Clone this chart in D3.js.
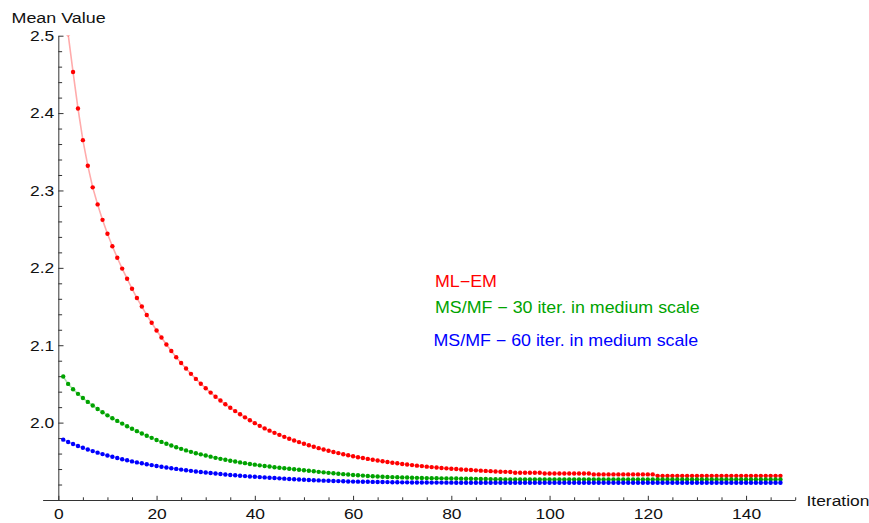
<!DOCTYPE html>
<html>
<head>
<meta charset="utf-8">
<script src="https://cdn.jsdelivr.net/npm/d3@7"></script>
<style>
  html, body { margin: 0; padding: 0; background: #fff; }
  svg { display: block; font-family: "Liberation Sans", Arial, Helvetica, sans-serif; }
</style>
</head>
<body>
<svg id="chart" width="869" height="523"></svg>
<script>
// Iteration index shared by all three runs
const iterations = d3.range(1, 148);

// ML-EM mean value per iteration
const mlEm = [
  2.556, 2.502, 2.453, 2.406, 2.365, 2.332, 2.304, 2.282, 2.262, 2.244,
  2.228, 2.213, 2.199, 2.186, 2.173, 2.161, 2.150, 2.139, 2.129, 2.119,
  2.110, 2.101, 2.0925, 2.0845, 2.0770, 2.0700, 2.0630, 2.0565, 2.0503, 2.0444,
  2.0388, 2.0335, 2.0285, 2.0237, 2.0192, 2.0149, 2.0108, 2.0068, 2.0030, 1.9993,
  1.9958, 1.9925, 1.9896, 1.9868, 1.9842, 1.9816, 1.9792, 1.9769, 1.9748, 1.9727,
  1.9707, 1.9688, 1.9670, 1.9653, 1.9637, 1.9621, 1.9606, 1.9592, 1.9579, 1.9566,
  1.9553, 1.9542, 1.9531, 1.9520, 1.9510, 1.9500, 1.9491, 1.9482, 1.9474, 1.9466,
  1.9458, 1.9451, 1.9444, 1.9438, 1.9431, 1.9425, 1.9420, 1.9414, 1.9409, 1.9404,
  1.9400, 1.9395, 1.9391, 1.9387, 1.9383, 1.9379, 1.9376, 1.9373, 1.9369, 1.9366,
  1.9364, 1.9362, 1.9352, 1.9352, 1.9352, 1.9352, 1.9352, 1.9352, 1.9342, 1.9342,
  1.9342, 1.9342, 1.9342, 1.9342, 1.9342, 1.9342, 1.9342, 1.9342, 1.9331, 1.9331,
  1.9331, 1.9331, 1.9331, 1.9331, 1.9331, 1.9331, 1.9331, 1.9331, 1.9331, 1.9331,
  1.9331, 1.9312, 1.9312, 1.9312, 1.9312, 1.9312, 1.9312, 1.9312, 1.9312, 1.9312,
  1.9312, 1.9312, 1.9312, 1.9312, 1.9312, 1.9312, 1.9312, 1.9312, 1.9312, 1.9312,
  1.9312, 1.9312, 1.9312, 1.9312, 1.9312, 1.9312, 1.9312
];

// MS/MF with 30 iterations in medium scale
const msmf30 = [
  2.0595, 2.0500, 2.0432, 2.0372, 2.0318, 2.0268, 2.0221, 2.0176, 2.0134, 2.0094,
  2.0057, 2.0022, 1.9987, 1.9953, 1.9921, 1.9890, 1.9860, 1.9831, 1.9803, 1.9776,
  1.9751, 1.9727, 1.9704, 1.9682, 1.9661, 1.9641, 1.9622, 1.9604, 1.9590, 1.9575,
  1.9560, 1.9545, 1.9532, 1.9520, 1.9508, 1.9497, 1.9486, 1.9476, 1.9466, 1.9457,
  1.9448, 1.9440, 1.9432, 1.9424, 1.9417, 1.9410, 1.9403, 1.9397, 1.9391, 1.9385,
  1.9378, 1.9371, 1.9364, 1.9357, 1.9351, 1.9345, 1.9339, 1.9334, 1.9329, 1.9324,
  1.9319, 1.9315, 1.9311, 1.9307, 1.9304, 1.9301, 1.9298, 1.9296, 1.9294, 1.9292,
  1.9290, 1.9288, 1.9286, 1.9285, 1.9283, 1.9282, 1.9281, 1.9280, 1.9279, 1.9278,
  1.9277, 1.9276, 1.9275, 1.9274, 1.9273, 1.9272, 1.9271, 1.9270, 1.9269, 1.9268,
  1.9266, 1.9266, 1.9266, 1.9266, 1.9266, 1.9266, 1.9266, 1.9266, 1.9266, 1.9266,
  1.9266, 1.9266, 1.9266, 1.9266, 1.9266, 1.9266, 1.9266, 1.9266, 1.9266, 1.9266,
  1.9264, 1.9264, 1.9264, 1.9264, 1.9264, 1.9264, 1.9264, 1.9264, 1.9264, 1.9264,
  1.9264, 1.9264, 1.9264, 1.9264, 1.9264, 1.9264, 1.9264, 1.9264, 1.9264, 1.9264,
  1.9264, 1.9264, 1.9264, 1.9264, 1.9264, 1.9264, 1.9264, 1.9264, 1.9264, 1.9264,
  1.9264, 1.9264, 1.9264, 1.9264, 1.9264, 1.9264, 1.9264
];

// MS/MF with 60 iterations in medium scale
const msmf60 = [
  1.9780, 1.9750, 1.9723, 1.9698, 1.9675, 1.9653, 1.9632, 1.9612, 1.9593, 1.9575,
  1.9558, 1.9542, 1.9527, 1.9513, 1.9499, 1.9486, 1.9474, 1.9462, 1.9451, 1.9440,
  1.9430, 1.9420, 1.9411, 1.9402, 1.9393, 1.9385, 1.9377, 1.9369, 1.9362, 1.9355,
  1.9348, 1.9342, 1.9336, 1.9330, 1.9324, 1.9319, 1.9314, 1.9309, 1.9304, 1.9300,
  1.9296, 1.9292, 1.9288, 1.9284, 1.9280, 1.9276, 1.9272, 1.9268, 1.9265, 1.9262,
  1.9259, 1.9256, 1.9253, 1.9250, 1.9248, 1.9246, 1.9244, 1.9242, 1.9240, 1.9238,
  1.9237, 1.9236, 1.9235, 1.9234, 1.9233, 1.9232, 1.9231, 1.9230, 1.9229, 1.9228,
  1.9228, 1.9227, 1.9227, 1.9226, 1.9226, 1.9225, 1.9225, 1.9225, 1.9224, 1.9224,
  1.9223, 1.9223, 1.9223, 1.9223, 1.9223, 1.9223, 1.9223, 1.9223, 1.9223, 1.9223,
  1.9223, 1.9223, 1.9223, 1.9223, 1.9223, 1.9223, 1.9223, 1.9223, 1.9223, 1.9223,
  1.9223, 1.9223, 1.9223, 1.9223, 1.9223, 1.9223, 1.9223, 1.9223, 1.9223, 1.9223,
  1.9222, 1.9222, 1.9222, 1.9222, 1.9222, 1.9222, 1.9222, 1.9222, 1.9222, 1.9222,
  1.9222, 1.9222, 1.9222, 1.9222, 1.9222, 1.9222, 1.9222, 1.9222, 1.9222, 1.9222,
  1.9222, 1.9222, 1.9222, 1.9222, 1.9222, 1.9222, 1.9222, 1.9222, 1.9222, 1.9222,
  1.9222, 1.9222, 1.9222, 1.9222, 1.9222, 1.9222, 1.9222
];

const seriesNames = ["ML\u2212EM", "MS/MF \u2212 30 iter. in medium scale", "MS/MF \u2212 60 iter. in medium scale"];
const seriesColors = ["#ff0000", "#00a300", "#0000ff"];

const xMajorTicks = [0, 20, 40, 60, 80, 100, 120, 140];
const yMajorTicks = [2.0, 2.1, 2.2, 2.3, 2.4, 2.5];
const yTickLabels = ["2.0", "2.1", "2.2", "2.3", "2.4", "2.5"];
const xTitle = "Iteration";
const yTitle = "Mean Value";

const series = [mlEm, msmf30, msmf60].map((vals, i) => ({
  name: seriesNames[i],
  color: seriesColors[i],
  points: vals.map((v, j) => ({ x: iterations[j], y: v }))
}));

const svg = d3.select("#chart");

const x = d3.scaleLinear().domain([-3.2, 150]).range([42.6, 795.2]);
const y = d3.scaleLinear().domain([1.9, 2.5]).range([500, 35.7]);

const stretch = "scale(1.14,1)";
const axisColor = "#333";

// plotting region clip
svg.append("defs").append("clipPath").attr("id", "plotClip")
  .append("rect")
  .attr("x", x(-3.2)).attr("y", y(2.5))
  .attr("width", x(150) - x(-3.2)).attr("height", y(1.9) - y(2.5));

// minor ticks
const xMinor = d3.range(5, 151, 5).filter(v => v % 20 !== 0);
const yMinor = d3.range(1.92, 2.5, 0.02).map(v => +v.toFixed(2)).filter(v => Math.abs(v * 10 - Math.round(v * 10)) > 1e-6);

const gx = svg.append("g").attr("transform", `translate(0,${y(1.9)})`);
gx.call(d3.axisBottom(x).tickValues(xMinor).tickFormat("").tickSizeInner(-2.7).tickSizeOuter(0));
gx.call(g => g.selectAll(".tick line").attr("stroke", axisColor));
gx.select(".domain").remove();

const gxMaj = svg.append("g").attr("transform", `translate(0,${y(1.9)})`);
gxMaj.call(d3.axisBottom(x).tickValues(xMajorTicks).tickFormat(d3.format("d"))
  .tickSizeInner(-4.2).tickSizeOuter(0).tickPadding(8.5));
gxMaj.select(".domain").attr("stroke", axisColor);
gxMaj.selectAll(".tick line").attr("stroke", axisColor);
gxMaj.selectAll(".tick text")
  .attr("font-size", 15.3).attr("fill", "#111")
  .attr("transform", stretch);

const gy = svg.append("g").attr("transform", `translate(${x(0)},0)`);
gy.call(d3.axisLeft(y).tickValues(yMinor).tickFormat("").tickSizeInner(-3.8).tickSizeOuter(0));
gy.selectAll(".tick line").attr("stroke", axisColor);
gy.select(".domain").remove();

const gyMaj = svg.append("g").attr("transform", `translate(${x(0)},0)`);
gyMaj.call(d3.axisLeft(y).tickValues(yMajorTicks).tickFormat((d, i) => yTickLabels[i])
  .tickSizeInner(-5.2).tickSizeOuter(0).tickPadding(0));
gyMaj.select(".domain").attr("stroke", axisColor);
gyMaj.selectAll(".tick line").attr("stroke", axisColor);
gyMaj.selectAll(".tick text")
  .attr("font-size", 15.3).attr("fill", "#111")
  .attr("x", 0)
  .attr("transform", `translate(-4,0) ${stretch}`);

// axis titles
svg.append("text")
  .attr("transform", `translate(11.5,23) scale(1.17,1)`)
  .attr("font-size", 15.3).attr("fill", "#111")
  .text(yTitle);
svg.append("text")
  .attr("transform", `translate(806.5,505.5) ${stretch}`)
  .attr("font-size", 15.3).attr("fill", "#111")
  .text(xTitle);

// series lines and markers
const plot = svg.append("g").attr("clip-path", "url(#plotClip)");
const line = d3.line().x(d => x(d.x)).y(d => y(d.y));

plot.selectAll("path.series")
  .data(series)
  .join("path")
  .attr("class", "series")
  .attr("d", d => line(d.points))
  .attr("fill", "none")
  .attr("stroke", d => d.color)
  .attr("stroke-opacity", 0.33)
  .attr("stroke-width", 1.6);

plot.selectAll("g.markers")
  .data(series)
  .join("g")
  .attr("class", "markers")
  .attr("fill", d => d.color)
  .selectAll("circle")
  .data(d => d.points)
  .join("circle")
  .attr("cx", d => x(d.x))
  .attr("cy", d => y(d.y))
  .attr("r", 2.2);

// legend
const legendY = [286.5, 313, 345.5];
svg.selectAll("text.legend")
  .data(series)
  .join("text")
  .attr("class", "legend")
  .attr("transform", (d, i) => `translate(${i === 2 ? 433.5 : 435},${legendY[i]}) scale(1.1,1)`)
  .attr("font-size", 16.2)
  .attr("fill", d => d.color)
  .text(d => d.name);
</script>
</body>
</html>
